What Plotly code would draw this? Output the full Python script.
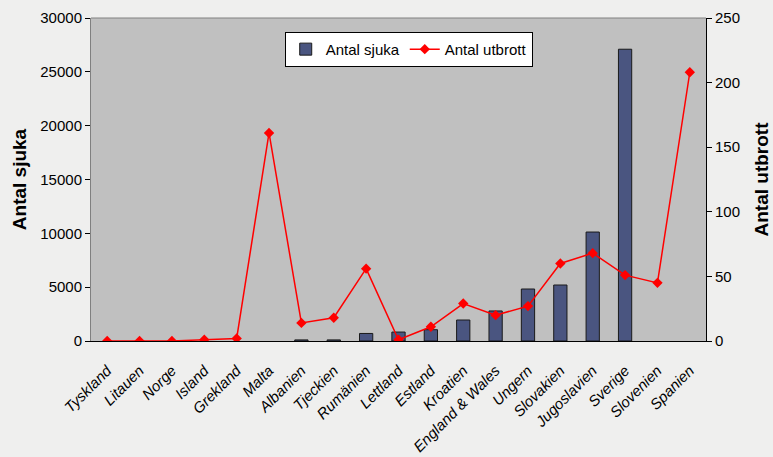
import plotly.graph_objects as go

countries = ["Tyskland", "Litauen", "Norge", "Island", "Grekland", "Malta", "Albanien",
             "Tjeckien", "Rumänien", "Lettland", "Estland", "Kroatien", "England & Wales",
             "Ungern", "Slovakien", "Jugoslavien", "Sverige", "Slovenien", "Spanien"]
sjuka = [None, None, None, None, None, None, 100, 100, 700, 830, 1050, 1950, 2790,
         4830, 5200, 10120, 27100, None, None]
utbrott = [0, 0, 0, 1, 2, 161, 14, 18, 56, 1, 11, 29, 20, 27, 60, 68, 51, 45, 208]

fig = go.Figure()
fig.add_trace(go.Bar(
    x=countries, y=sjuka, name="Antal sjuka",
    marker=dict(color="#4a5580", line=dict(color="#1a1a1a", width=1)),
    width=0.41,
))
fig.add_trace(go.Scatter(
    x=countries, y=utbrott, name="Antal utbrott", yaxis="y2",
    mode="lines+markers",
    line=dict(color="#ff0000", width=1.5),
    marker=dict(symbol="diamond", size=8, color="#ff0000"),
))

fig.update_layout(
    width=773, height=457,
    margin=dict(l=91, r=67, t=18, b=116),
    paper_bgcolor="#efefee",
    plot_bgcolor="#c0c0c0",
    font=dict(family="Liberation Sans, Arial, sans-serif", size=15, color="#000000"),
    showlegend=True,
    legend=dict(
        orientation="h", x=0.315, y=0.957, xanchor="left", yanchor="top",
        bgcolor="#ffffff", bordercolor="#000000", borderwidth=1,
        font=dict(size=15), itemwidth=30, tracegroupgap=0,
    ),
    xaxis=dict(
        showgrid=False, tickangle=-45, automargin=False,
        range=[-0.5, len(countries) - 0.5],
        tickfont=dict(size=15, style="italic"),
        showline=True, linecolor="#000000", linewidth=1,
        ticks="", mirror=False, ticklabelstandoff=14,
    ),
    yaxis=dict(
        range=[0, 30000], dtick=5000, showgrid=False, tickformat="d", automargin=False,
        showline=True, linecolor="#808080", linewidth=1,
        ticks="outside", ticklen=5, tickcolor="#000000",
        tickfont=dict(size=15),
        title=dict(text="Antal sjuka", font=dict(size=19, weight="bold"), standoff=8),
        zeroline=False,
    ),
    yaxis2=dict(
        range=[0, 250], dtick=50, overlaying="y", side="right", showgrid=False,
        automargin=False,
        showline=True, linecolor="#000000", linewidth=1,
        ticks="outside", ticklen=5, tickcolor="#000000",
        tickfont=dict(size=15),
        title=dict(text="Antal utbrott", font=dict(size=19, weight="bold"), standoff=15),
        zeroline=False,
    ),
    shapes=[dict(type="line", xref="paper", yref="paper", x0=0, x1=1, y0=1, y1=1,
                 line=dict(color="#808080", width=1))],
)

fig.write_html("out.html", config={"displayModeBar": False},
               post_script="document.body.style.margin='0';document.body.style.background='#efefee';")
